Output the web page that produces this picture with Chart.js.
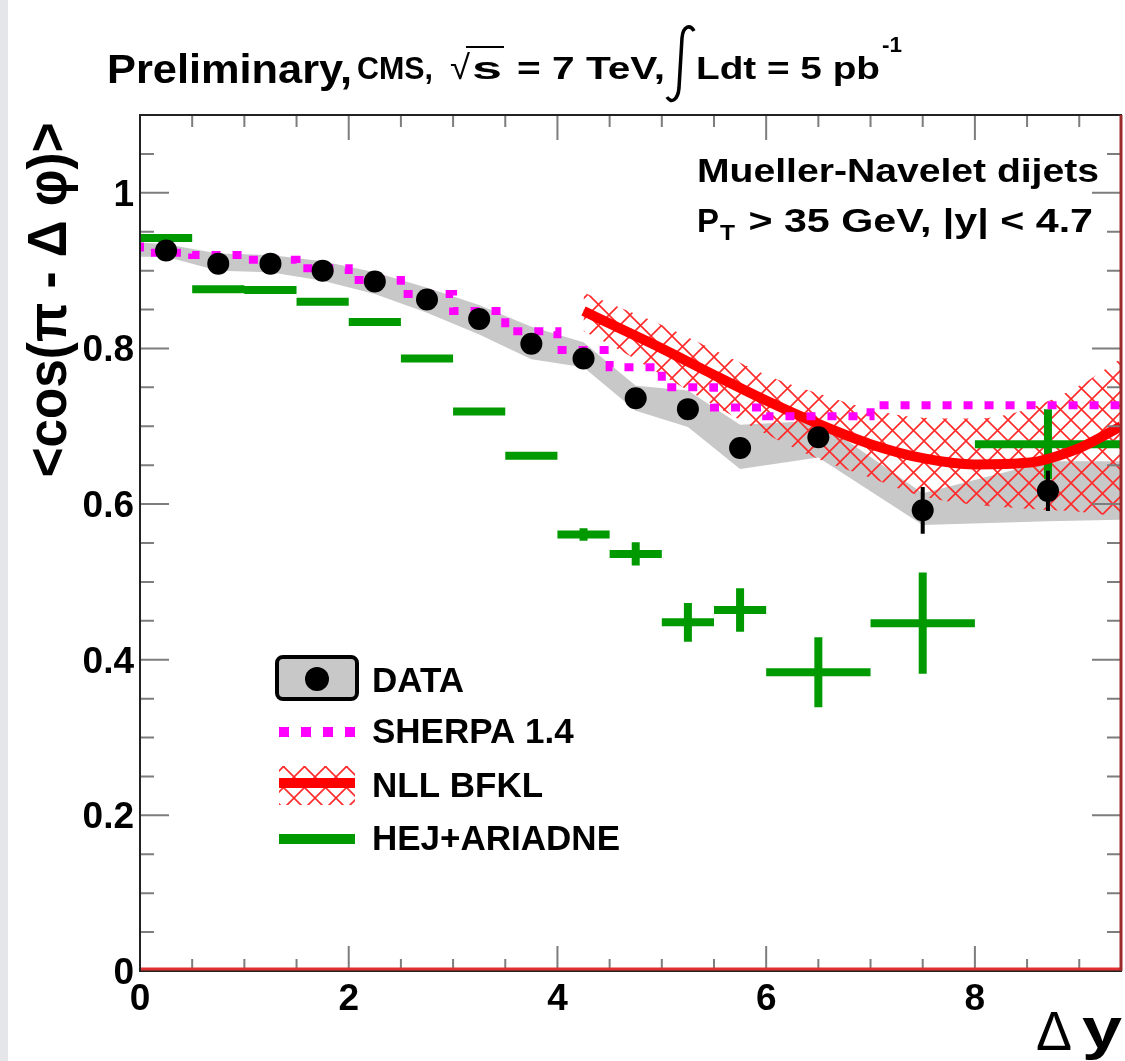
<!DOCTYPE html>
<html>
<head>
<meta charset="utf-8">
<script src="https://cdn.jsdelivr.net/npm/chart.js@4.4.0/dist/chart.umd.min.js"></script>
<style>
  html, body { margin: 0; padding: 0; background: #fff; overflow: hidden; }
  canvas { display: block; }
</style>
</head>
<body>
<canvas id="chart" width="1125" height="1061"></canvas>
<script>
// DATA (CMS measurement)
const dataX = [0.25, 0.75, 1.25, 1.75, 2.25, 2.75, 3.25, 3.75, 4.25, 4.75, 5.25, 5.75, 6.5, 7.5, 8.7];
const dataY = [0.926, 0.909, 0.909, 0.900, 0.886, 0.863, 0.838, 0.806, 0.787, 0.736, 0.722, 0.672, 0.686, 0.592, 0.617];
const dataErr = [0.004, 0.004, 0.004, 0.004, 0.005, 0.005, 0.006, 0.007, 0.008, 0.009, 0.010, 0.012, 0.013, 0.030, 0.026];

// systematic band around the data
const bandX = [0, 0.25, 0.75, 1.25, 1.75, 2.25, 2.75, 3.25, 3.75, 4.25, 4.75, 5.25, 5.75, 6.5, 7.5, 8.7, 9.4];
const bandUp = [0.936, 0.934, 0.922, 0.920, 0.912, 0.898, 0.878, 0.856, 0.828, 0.808, 0.752, 0.746, 0.702, 0.707, 0.614, 0.655, 0.655];
const bandLo = [0.918, 0.918, 0.900, 0.898, 0.887, 0.870, 0.846, 0.818, 0.786, 0.776, 0.720, 0.699, 0.645, 0.660, 0.573, 0.578, 0.580];

// bins shared by the MC curves
const binLo = [0, 0.5, 1, 1.5, 2, 2.5, 3, 3.5, 4, 4.5, 5, 5.5, 6, 7, 8];
const binHi = [0.5, 1, 1.5, 2, 2.5, 3, 3.5, 4, 4.5, 5, 5.5, 6, 7, 8, 9.4];
const binMid = [0.25, 0.75, 1.25, 1.75, 2.25, 2.75, 3.25, 3.75, 4.25, 4.75, 5.25, 5.75, 6.5, 7.5, 8.7];

// SHERPA 1.4
const sherpaY = [0.936, 0.923, 0.920, 0.914, 0.903, 0.888, 0.870, 0.848, 0.822, 0.798, 0.776, 0.750, 0.724, 0.713, 0.727];

// HEJ+ARIADNE
const hejY = [0.942, 0.876, 0.875, 0.860, 0.834, 0.787, 0.719, 0.662, 0.561, 0.536, 0.448, 0.464, 0.384, 0.447, 0.677];
const hejErr = [0.003, 0.003, 0.003, 0.003, 0.003, 0.003, 0.003, 0.003, 0.008, 0.015, 0.025, 0.028, 0.045, 0.065, 0.045];

// NLL BFKL
const nllX = [4.25, 4.5, 5, 5.5, 6, 6.5, 7, 7.5, 8, 8.5, 9, 9.4];
const nllY = [0.848, 0.832, 0.800, 0.766, 0.733, 0.703, 0.677, 0.659, 0.651, 0.653, 0.672, 0.700];
const nllUp = [0.872, 0.858, 0.830, 0.798, 0.766, 0.742, 0.722, 0.711, 0.710, 0.722, 0.752, 0.787];
const nllLo = [0.822, 0.805, 0.766, 0.727, 0.690, 0.658, 0.634, 0.610, 0.599, 0.594, 0.590, 0.583];

// axes
const xMajor = [0, 2, 4, 6, 8];
const yMajor = [0, 0.2, 0.4, 0.6, 0.8, 1];
const xTickLabels = ["0", "2", "4", "6", "8"];
const yTickLabels = ["0", "0.2", "0.4", "0.6", "0.8", "1"];
const legendLabels = ["DATA", "SHERPA 1.4", "NLL BFKL", "HEJ+ARIADNE"];

const GREEN = "#009a00";
const MAGENTA = "#ff00ff";
const RED = "#ff0000";
const FONT = "'Liberation Sans', Arial, Helvetica, sans-serif";

function makeHatch() {
  const p = document.createElement("canvas");
  p.width = 21;
  p.height = 21;
  const g = p.getContext("2d");
  g.strokeStyle = "#ff2a2a";
  g.lineWidth = 1.6;
  g.beginPath();
  g.moveTo(-2, -2); g.lineTo(23, 23);
  g.moveTo(23, -2); g.lineTo(-2, 23);
  g.stroke();
  return g.createPattern(p, "repeat");
}
const hatch = makeHatch();

const pts = (xs, ys) => xs.map((x, i) => ({ x: x, y: ys[i] }));

// horizontal bars + vertical error bars, broken by null gaps
function hBars(lo, hi, ys) {
  const out = [];
  ys.forEach((y, i) => {
    out.push({ x: lo[i], y: y }, { x: hi[i], y: y }, { x: hi[i], y: null });
  });
  return out;
}
function vBars(xs, ys, errs) {
  const out = [];
  ys.forEach((y, i) => {
    out.push({ x: xs[i], y: y - errs[i] }, { x: xs[i], y: y + errs[i] }, { x: xs[i], y: null });
  });
  return out;
}

const sherpaPts = binLo.map((x, i) => ({ x: x, y: sherpaY[i] }));
sherpaPts.push({ x: binHi[binHi.length - 1], y: sherpaY[sherpaY.length - 1] });

const plain = { pointRadius: 0, borderWidth: 0, borderColor: "rgba(0,0,0,0)", fill: false, tension: 0 };

function txt(ctx, s, x, y, font, w, align) {
  ctx.save();
  ctx.font = font;
  ctx.textBaseline = "alphabetic";
  ctx.textAlign = "left";
  const m = ctx.measureText(s).width;
  const k = w ? w / m : 1;
  let x0 = x;
  if (align === "right") x0 = x - m * k;
  if (align === "center") x0 = x - (m * k) / 2;
  ctx.translate(x0, y);
  ctx.scale(k, 1);
  ctx.fillText(s, 0, 0);
  ctx.restore();
}

const decorations = {
  id: "decorations",
  beforeDraw(chart) {
    const ctx = chart.ctx;
    ctx.save();
    ctx.fillStyle = "#fff";
    ctx.fillRect(0, 0, chart.width, chart.height);
    ctx.fillStyle = "#e4e6ea";
    ctx.fillRect(0, 0, 8, chart.height);
    ctx.restore();
  },
  afterDatasetsDraw(chart) {
    const ctx = chart.ctx;
    const a = chart.chartArea;
    const xs = chart.scales.x, ys = chart.scales.y;
    ctx.save();

    // ticks (inside the frame, on all four sides)
    ctx.strokeStyle = "#7d7d7d";
    ctx.lineWidth = 2;
    ctx.beginPath();
    for (let v = 0.5; v < 9.4; v += 0.5) {
      const px = xs.getPixelForValue(v);
      const len = Math.abs(v % 2) < 1e-6 ? 25 : 12;
      ctx.moveTo(px, a.bottom); ctx.lineTo(px, a.bottom - len);
      ctx.moveTo(px, a.top); ctx.lineTo(px, a.top + len);
    }
    for (let k = 1; k <= 21; k++) {
      const v = k * 0.05;
      const py = ys.getPixelForValue(v);
      const len = k % 4 === 0 ? 29 : 14;
      ctx.moveTo(a.left, py); ctx.lineTo(a.left + len, py);
      ctx.moveTo(a.right, py); ctx.lineTo(a.right - len, py);
    }
    ctx.stroke();

    // frame
    ctx.strokeStyle = "#222";
    ctx.lineWidth = 2;
    ctx.strokeRect(a.left, a.top, a.right - a.left, a.bottom - a.top);
    ctx.strokeStyle = "#e03030";
    ctx.lineWidth = 3;
    ctx.beginPath();
    ctx.moveTo(a.left + 1, a.bottom - 2); ctx.lineTo(a.right, a.bottom - 2);
    ctx.stroke();
    ctx.strokeStyle = "#9a2a2a";
    ctx.beginPath();
    ctx.moveTo(a.right, a.top); ctx.lineTo(a.right, a.bottom);
    ctx.stroke();

    // tick labels
    ctx.fillStyle = "#000";
    const tf = "bold 37px " + FONT;
    xMajor.forEach((v, i) => {
      txt(ctx, xTickLabels[i], xs.getPixelForValue(v), 1010, tf, null, "center");
    });
    yMajor.forEach((v, i) => {
      txt(ctx, yTickLabels[i], 134, ys.getPixelForValue(v) + 13, tf, null, "right");
    });

    // axis titles
    ctx.save();
    ctx.translate(66, 300);
    ctx.rotate(-Math.PI / 2);
    txt(ctx, "<cos(\u03c0 - \u0394 \u03c6)>", 0, 0, "bold 56px " + FONT, 355, "center");
    ctx.restore();
    txt(ctx, "\u0394", 1036, 1050, "56px " + FONT, 36);
    txt(ctx, "y", 1082, 1048, "bold 58px " + FONT, 40);

    // title line
    txt(ctx, "Preliminary,", 107, 83, "bold 40px " + FONT, 245);
    txt(ctx, "CMS,", 357, 79, "bold 32px " + FONT, 76);
    txt(ctx, "\u221a", 450, 79, "34px " + FONT, 20);
    txt(ctx, "s", 472, 79, "bold 32px " + FONT, 30);
    ctx.strokeStyle = "#000";
    ctx.lineWidth = 2;
    ctx.beginPath();
    ctx.moveTo(466, 47); ctx.lineTo(504, 47);
    ctx.stroke();
    txt(ctx, "= 7 TeV,", 517, 79, "bold 32px " + FONT, 148);
    ctx.lineWidth = 3.5;
    ctx.beginPath();
    ctx.moveTo(667, 97);
    ctx.bezierCurveTo(671, 104, 678, 100, 679, 88);
    ctx.lineTo(682, 38);
    ctx.bezierCurveTo(683, 26, 690, 24, 694, 31);
    ctx.stroke();
    txt(ctx, "Ldt = 5 pb", 696, 79, "bold 32px " + FONT, 184);
    txt(ctx, "-1", 882, 52, "bold 22px " + FONT, 20);

    // process label
    txt(ctx, "Mueller-Navelet dijets", 1099, 182, "bold 34px " + FONT, 402, "right");
    txt(ctx, "P", 697, 232, "bold 34px " + FONT, 22);
    txt(ctx, "T", 720, 240, "bold 22px " + FONT, 15);
    txt(ctx, " > 35 GeV, |y| < 4.7", 1093, 232, "bold 34px " + FONT, 356, "right");

    // legend
    const lx0 = 279, lx1 = 355, tx = 372;
    ctx.fillStyle = "#c8c8c8";
    ctx.strokeStyle = "#000";
    ctx.lineWidth = 4;
    ctx.beginPath();
    ctx.roundRect(277, 657, 80, 42, 6);
    ctx.fill();
    ctx.stroke();
    ctx.fillStyle = "#000";
    ctx.beginPath();
    ctx.arc(317, 679, 12, 0, Math.PI * 2);
    ctx.fill();

    ctx.strokeStyle = MAGENTA;
    ctx.lineWidth = 10;
    ctx.setLineDash([10, 12]);
    ctx.beginPath();
    ctx.moveTo(lx0, 732); ctx.lineTo(lx1 + 2, 732);
    ctx.stroke();
    ctx.setLineDash([]);

    ctx.fillStyle = hatch;
    ctx.fillRect(lx0, 766, lx1 - lx0, 39);
    ctx.strokeStyle = RED;
    ctx.lineWidth = 10;
    ctx.beginPath();
    ctx.moveTo(lx0, 783); ctx.lineTo(lx1, 783);
    ctx.stroke();

    ctx.strokeStyle = GREEN;
    ctx.beginPath();
    ctx.moveTo(lx0, 839); ctx.lineTo(lx1, 839);
    ctx.stroke();

    ctx.fillStyle = "#000";
    const lf = "bold 35px " + FONT;
    txt(ctx, legendLabels[0], tx, 692, lf);
    txt(ctx, legendLabels[1], tx, 743, lf);
    txt(ctx, legendLabels[2], tx, 797, lf);
    txt(ctx, legendLabels[3], tx, 850, lf);

    ctx.restore();
  }
};

new Chart(document.getElementById("chart").getContext("2d"), {
  type: "line",
  data: {
    datasets: [
      Object.assign({}, plain, { data: pts(bandX, bandUp), fill: "+1", backgroundColor: "#c8c8c8", order: 10 }),
      Object.assign({}, plain, { data: pts(bandX, bandLo), order: 10 }),
      Object.assign({}, plain, { data: pts(nllX, nllUp), fill: "+1", backgroundColor: hatch, cubicInterpolationMode: "monotone", order: 9 }),
      Object.assign({}, plain, { data: pts(nllX, nllLo), cubicInterpolationMode: "monotone", order: 9 }),
      { data: hBars(binLo, binHi, hejY), borderColor: GREEN, borderWidth: 8, pointRadius: 0, spanGaps: false, fill: false, borderCapStyle: "butt", order: 8 },
      { data: vBars(binMid, hejY, hejErr), borderColor: GREEN, borderWidth: 8, pointRadius: 0, spanGaps: false, fill: false, borderCapStyle: "butt", order: 8 },
      { data: pts(nllX, nllY), borderColor: RED, borderWidth: 10, pointRadius: 0, fill: false, cubicInterpolationMode: "monotone", order: 7 },
      { data: sherpaPts, borderColor: MAGENTA, borderWidth: 8, borderDash: [9, 12], stepped: "after", pointRadius: 0, fill: false, borderCapStyle: "butt", order: 6 },
      { data: vBars(dataX, dataY, dataErr), borderColor: "#000", borderWidth: 4, pointRadius: 0, spanGaps: false, fill: false, order: 5 },
      { data: pts(dataX, dataY), showLine: false, pointRadius: 11, pointBackgroundColor: "#000", pointBorderWidth: 0, order: 4 }
    ]
  },
  options: {
    responsive: false,
    animation: false,
    devicePixelRatio: 1,
    layout: { autoPadding: false, padding: { left: 140, top: 115, right: 4, bottom: 90 } },
    scales: {
      x: { type: "linear", min: 0, max: 9.4, display: false },
      y: { type: "linear", min: 0, max: 1.1, display: false }
    },
    plugins: { legend: { display: false }, tooltip: { enabled: false } }
  },
  plugins: [decorations]
});
</script>
</body>
</html>
